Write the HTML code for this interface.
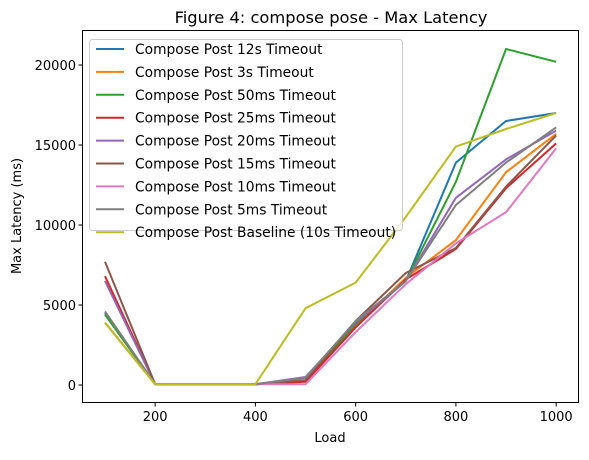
<!DOCTYPE html>
<html><head><meta charset="utf-8"><style>
body{margin:0;background:#fff}
svg text{font-family:"DejaVu Sans","Liberation Sans",sans-serif;fill:#000}
</style></head><body>
<svg width="589" height="455" id="c">
<text x="331" y="23" font-size="16.3" text-anchor="middle">Figure 4: compose pose - Max Latency</text>
<text x="330" y="442" font-size="13" text-anchor="middle">Load</text>
<text transform="translate(21,216) rotate(-90)" font-size="13" text-anchor="middle">Max Latency (ms)</text>
<g id="ticks"></g><g id="lines"></g>
<rect x="82.5" y="30.5" width="496" height="372" fill="none" stroke="#000" stroke-width="1"/>
<g id="legend"></g>
</svg>
<script>
const loads=[100,200,300,400,500,600,700,800,900,1000];
const names=["Compose Post 12s Timeout","Compose Post 3s Timeout","Compose Post 50ms Timeout","Compose Post 25ms Timeout","Compose Post 20ms Timeout","Compose Post 15ms Timeout","Compose Post 10ms Timeout","Compose Post 5ms Timeout","Compose Post Baseline (10s Timeout)"];
const colors=["#1f77b4","#ff7f0e","#2ca02c","#d62728","#9467bd","#8c564b","#e377c2","#7f7f7f","#bcbd22"];
const s12=[4500,50,50,50,300,3800,6500,13900,16500,17000];
const s3=[3900,50,50,50,250,3700,6700,9060,13300,15700];
const s50ms=[4400,50,50,50,300,3800,6500,12700,21000,20200];
const s25ms=[6800,50,50,50,200,3600,6600,8500,12300,15100];
const s20ms=[6500,50,50,50,500,3900,6500,11700,14100,15900];
const s15ms=[7700,50,50,50,300,4000,7000,8560,12400,15600];
const s10ms=[3900,50,50,50,50,3300,6300,8850,10800,14800];
const s5ms=[4600,50,50,50,450,4000,6500,11250,13900,16100];
const sBase=[3900,50,50,50,4800,6400,10500,14900,16000,17000];
const series=[s12,s3,s50ms,s25ms,s20ms,s15ms,s10ms,s5ms,sBase];
const xTicks=[200,400,600,800,1000];
const yTicks=[0,5000,10000,15000,20000];
const NS="http://www.w3.org/2000/svg";
const X=v=>105+(v-100)*0.5013;
const Y=v=>385-v*0.016;
const tg=document.getElementById('ticks');
function mk(t,a,p){const e=document.createElementNS(NS,t);for(const k in a)e.setAttribute(k,a[k]);p.appendChild(e);return e;}
xTicks.forEach(v=>{
 const l=mk('line',{x1:X(v),x2:X(v),y1:402.5,y2:406.5,stroke:'#000'},tg);
 
 
 const t=mk('text',{x:X(v),y:421,'font-size':13,'text-anchor':'middle'},tg);t.textContent=v;
 
 
});
yTicks.forEach(v=>{
 const l=mk('line',{x1:78.5,x2:82.5,y1:Y(v),y2:Y(v),stroke:'#000'},tg);
 
 
 const t=mk('text',{x:76,y:Y(v)+5,'font-size':13,'text-anchor':'end'},tg);t.textContent=v;
 
 
});
const lg=document.getElementById('lines');
series.forEach((s,i)=>{
 const p=mk('polyline',{points:s.map((v,j)=>X(loads[j])+','+Y(v)).join(' '),fill:'none',stroke:colors[i],'stroke-width':2,'stroke-linejoin':'round'},lg);
 
 
});
const leg=document.getElementById('legend');
const box=mk('rect',{x:89.5,y:39.5,width:313,height:191,rx:3,fill:'#fff','fill-opacity':0.8,stroke:'#ccc'},leg);


names.forEach((n,i)=>{
 const y=49+i*22.9;
 const l=mk('line',{x1:96,x2:124,y1:y,y2:y,stroke:colors[i],'stroke-width':2},leg);
 
 
 const t=mk('text',{x:135,y:y+5,'font-size':13.8},leg);t.textContent=n;
 
 
});
</script>
</body></html>
